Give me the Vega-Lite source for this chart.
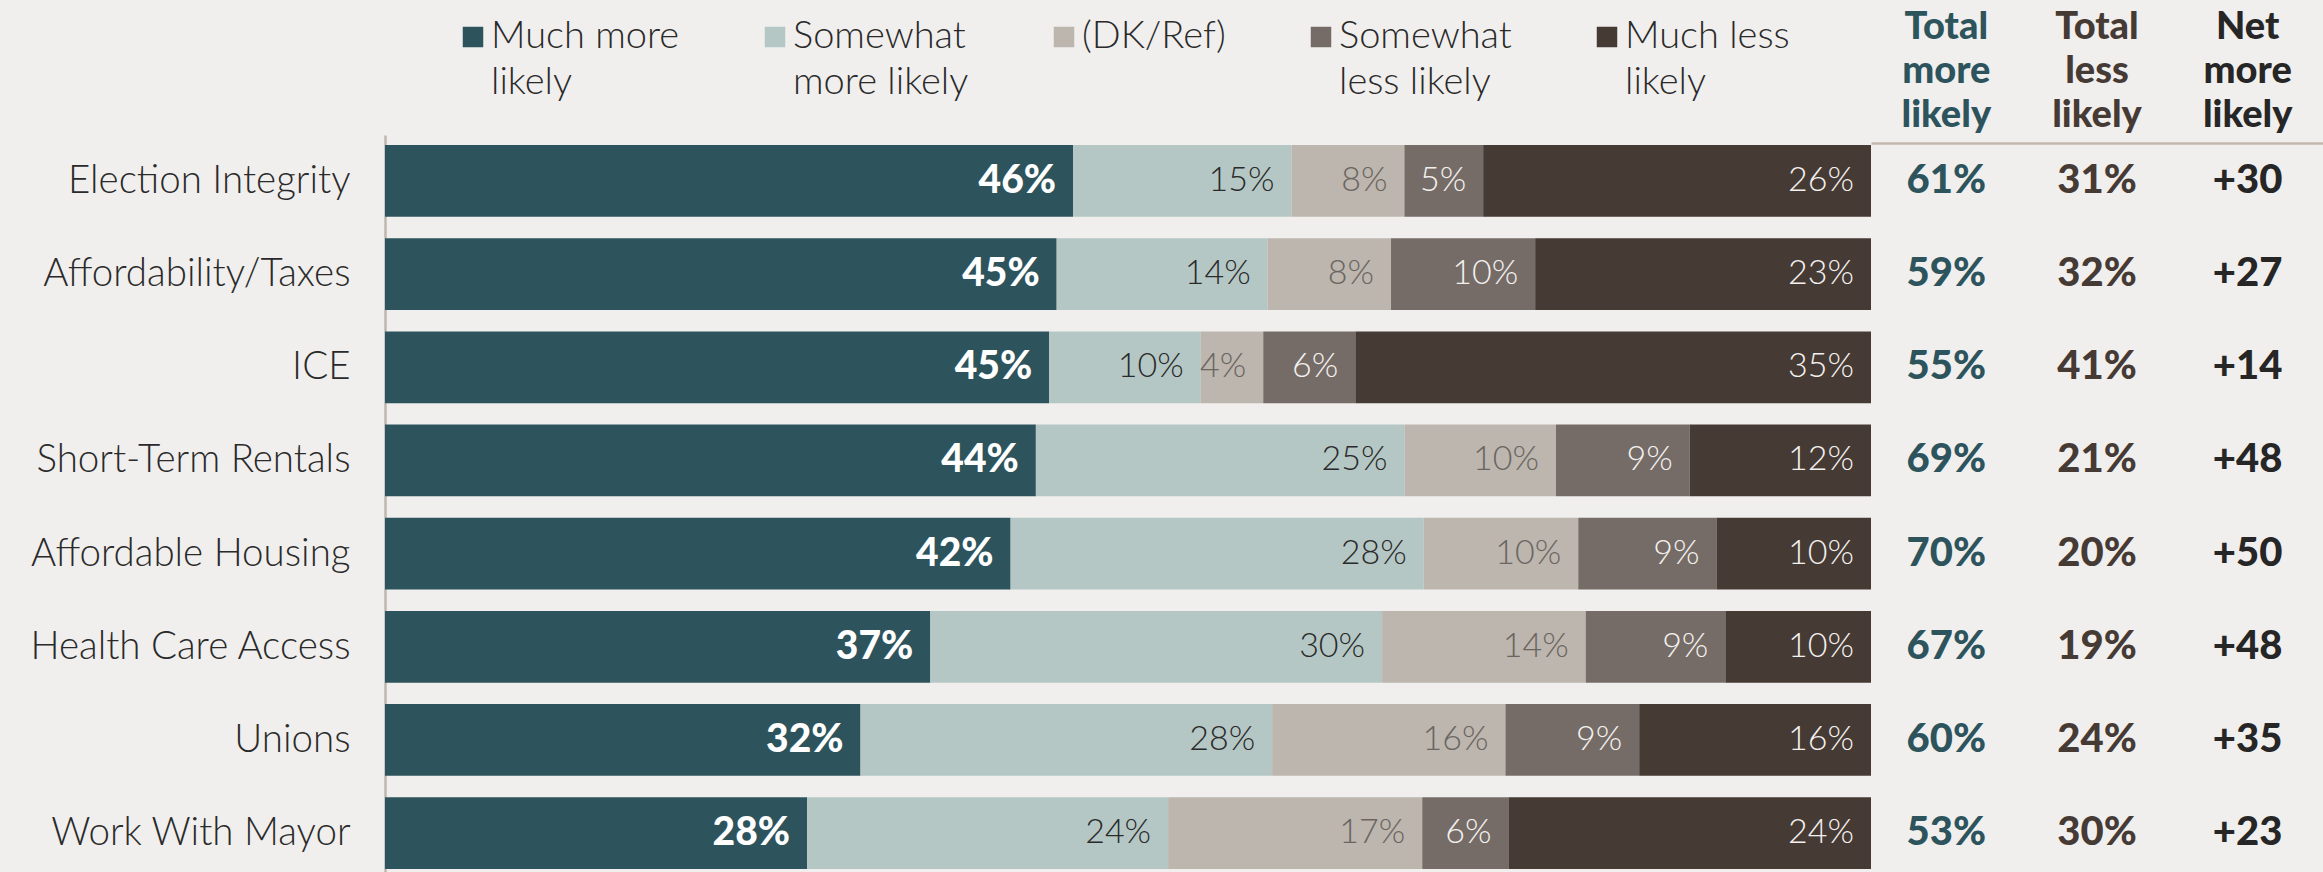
{
  "$schema": "https://vega.github.io/schema/vega-lite/v6.json",
  "background": "#f0efed",
  "autosize": {"type": "none"},
  "padding": {"left": 385, "top": 135, "right": 1938, "bottom": 737},
  "spacing": 0,
  "bounds": "flush",
  "config": {"view": {"stroke": null}, "font": "Lato", "style": {"guide-label": {"lineHeight": 46}}},
  "datasets": {
    "responses": [
      {"issue": "Election Integrity", "response": "Much more likely", "rank": 1, "share": 0.463},
      {"issue": "Election Integrity", "response": "Somewhat more likely", "rank": 2, "share": 0.147},
      {"issue": "Election Integrity", "response": "(DK/Ref)", "rank": 3, "share": 0.076},
      {"issue": "Election Integrity", "response": "Somewhat less likely", "rank": 4, "share": 0.053},
      {"issue": "Election Integrity", "response": "Much less likely", "rank": 5, "share": 0.261},
      {"issue": "Affordability/Taxes", "response": "Much more likely", "rank": 1, "share": 0.452},
      {"issue": "Affordability/Taxes", "response": "Somewhat more likely", "rank": 2, "share": 0.142},
      {"issue": "Affordability/Taxes", "response": "(DK/Ref)", "rank": 3, "share": 0.083},
      {"issue": "Affordability/Taxes", "response": "Somewhat less likely", "rank": 4, "share": 0.097},
      {"issue": "Affordability/Taxes", "response": "Much less likely", "rank": 5, "share": 0.226},
      {"issue": "ICE", "response": "Much more likely", "rank": 1, "share": 0.447},
      {"issue": "ICE", "response": "Somewhat more likely", "rank": 2, "share": 0.102},
      {"issue": "ICE", "response": "(DK/Ref)", "rank": 3, "share": 0.042},
      {"issue": "ICE", "response": "Somewhat less likely", "rank": 4, "share": 0.062},
      {"issue": "ICE", "response": "Much less likely", "rank": 5, "share": 0.347},
      {"issue": "Short-Term Rentals", "response": "Much more likely", "rank": 1, "share": 0.438},
      {"issue": "Short-Term Rentals", "response": "Somewhat more likely", "rank": 2, "share": 0.248},
      {"issue": "Short-Term Rentals", "response": "(DK/Ref)", "rank": 3, "share": 0.102},
      {"issue": "Short-Term Rentals", "response": "Somewhat less likely", "rank": 4, "share": 0.090},
      {"issue": "Short-Term Rentals", "response": "Much less likely", "rank": 5, "share": 0.122},
      {"issue": "Affordable Housing", "response": "Much more likely", "rank": 1, "share": 0.421},
      {"issue": "Affordable Housing", "response": "Somewhat more likely", "rank": 2, "share": 0.278},
      {"issue": "Affordable Housing", "response": "(DK/Ref)", "rank": 3, "share": 0.104},
      {"issue": "Affordable Housing", "response": "Somewhat less likely", "rank": 4, "share": 0.093},
      {"issue": "Affordable Housing", "response": "Much less likely", "rank": 5, "share": 0.104},
      {"issue": "Health Care Access", "response": "Much more likely", "rank": 1, "share": 0.367},
      {"issue": "Health Care Access", "response": "Somewhat more likely", "rank": 2, "share": 0.304},
      {"issue": "Health Care Access", "response": "(DK/Ref)", "rank": 3, "share": 0.137},
      {"issue": "Health Care Access", "response": "Somewhat less likely", "rank": 4, "share": 0.094},
      {"issue": "Health Care Access", "response": "Much less likely", "rank": 5, "share": 0.098},
      {"issue": "Unions", "response": "Much more likely", "rank": 1, "share": 0.320},
      {"issue": "Unions", "response": "Somewhat more likely", "rank": 2, "share": 0.277},
      {"issue": "Unions", "response": "(DK/Ref)", "rank": 3, "share": 0.157},
      {"issue": "Unions", "response": "Somewhat less likely", "rank": 4, "share": 0.090},
      {"issue": "Unions", "response": "Much less likely", "rank": 5, "share": 0.156},
      {"issue": "Work With Mayor", "response": "Much more likely", "rank": 1, "share": 0.284},
      {"issue": "Work With Mayor", "response": "Somewhat more likely", "rank": 2, "share": 0.243},
      {"issue": "Work With Mayor", "response": "(DK/Ref)", "rank": 3, "share": 0.171},
      {"issue": "Work With Mayor", "response": "Somewhat less likely", "rank": 4, "share": 0.058},
      {"issue": "Work With Mayor", "response": "Much less likely", "rank": 5, "share": 0.244}
    ],
    "totals": [
      {"issue": "Election Integrity", "metric": "Total more likely", "value": "61%"},
      {"issue": "Election Integrity", "metric": "Total less likely", "value": "31%"},
      {"issue": "Election Integrity", "metric": "Net more likely", "value": "+30"},
      {"issue": "Affordability/Taxes", "metric": "Total more likely", "value": "59%"},
      {"issue": "Affordability/Taxes", "metric": "Total less likely", "value": "32%"},
      {"issue": "Affordability/Taxes", "metric": "Net more likely", "value": "+27"},
      {"issue": "ICE", "metric": "Total more likely", "value": "55%"},
      {"issue": "ICE", "metric": "Total less likely", "value": "41%"},
      {"issue": "ICE", "metric": "Net more likely", "value": "+14"},
      {"issue": "Short-Term Rentals", "metric": "Total more likely", "value": "69%"},
      {"issue": "Short-Term Rentals", "metric": "Total less likely", "value": "21%"},
      {"issue": "Short-Term Rentals", "metric": "Net more likely", "value": "+48"},
      {"issue": "Affordable Housing", "metric": "Total more likely", "value": "70%"},
      {"issue": "Affordable Housing", "metric": "Total less likely", "value": "20%"},
      {"issue": "Affordable Housing", "metric": "Net more likely", "value": "+50"},
      {"issue": "Health Care Access", "metric": "Total more likely", "value": "67%"},
      {"issue": "Health Care Access", "metric": "Total less likely", "value": "19%"},
      {"issue": "Health Care Access", "metric": "Net more likely", "value": "+48"},
      {"issue": "Unions", "metric": "Total more likely", "value": "60%"},
      {"issue": "Unions", "metric": "Total less likely", "value": "24%"},
      {"issue": "Unions", "metric": "Net more likely", "value": "+35"},
      {"issue": "Work With Mayor", "metric": "Total more likely", "value": "53%"},
      {"issue": "Work With Mayor", "metric": "Total less likely", "value": "30%"},
      {"issue": "Work With Mayor", "metric": "Net more likely", "value": "+23"}
    ]
  },
  "hconcat": [
    {
      "width": 1486,
      "height": 737,
      "data": {"name": "responses"},
      "transform": [
        {"stack": "share", "groupby": ["issue"], "sort": [{"field": "rank", "order": "ascending"}], "as": ["x0", "x1"]}
      ],
      "encoding": {
        "y": {
          "field": "issue",
          "type": "nominal",
          "sort": ["Election Integrity", "Affordability/Taxes", "ICE", "Short-Term Rentals", "Affordable Housing", "Health Care Access", "Unions", "Work With Mayor"],
          "scale": {"type": "band", "paddingInner": 0.23, "paddingOuter": 0.07, "align": 0.77},
          "axis": {
            "title": null,
            "ticks": false,
            "tickSize": 0,
            "domainColor": "#bdb7b0",
            "domainWidth": 2.5,
            "labelPadding": 35,
            "labelFontSize": 38.5,
            "labelFont": "Lato",
            "labelFontWeight": 300,
            "labelColor": "#2a2a2a",
            "labelLimit": 400
          }
        }
      },
      "layer": [
        {
          "mark": {"type": "bar"},
          "encoding": {
            "x": {"field": "x0", "type": "quantitative", "scale": {"domain": [0, 1], "nice": false}, "axis": null},
            "x2": {"field": "x1"},
            "color": {
              "field": "response",
              "type": "nominal",
              "scale": {
                "domain": ["Much more likely", "Somewhat more likely", "(DK/Ref)", "Somewhat less likely", "Much less likely"],
                "range": ["#2d545d", "#b5c7c4", "#bcb6ae", "#766c67", "#463a35"]
              },
              "legend": {
                "orient": "none",
                "legendX": 69,
                "legendY": -117,
                "direction": "horizontal",
                "columns": 5,
                "title": null,
                "symbolType": "square",
                "symbolSize": 420,
                "symbolStrokeWidth": 0,
                "labelFontSize": 38,
                "labelFont": "Lato",
                "labelFontWeight": 300,
                "labelColor": "#2a2a2a",
                "labelBaseline": "middle",
                "labelOffset": -1,
                "labelLimit": 400,
                "columnPadding": 76,
                "labelExpr": "datum.label == 'Much more likely' ? ['Much more', 'likely'] : datum.label == 'Somewhat more likely' ? ['Somewhat', 'more likely'] : datum.label == 'Somewhat less likely' ? ['Somewhat', 'less likely'] : datum.label == 'Much less likely' ? ['Much less', 'likely'] : [datum.label, ' ']"
              }
            }
          }
        },
        {
          "transform": [{"filter": "datum.response == 'Much more likely'"}],
          "mark": {"type": "text", "align": "right", "baseline": "middle", "dx": -17, "fontSize": 39, "fontWeight": 900, "font": "Lato", "color": "#ffffff"},
          "encoding": {
            "x": {"field": "x1", "type": "quantitative"},
            "text": {"field": "share", "type": "quantitative", "format": ".0%"}
          }
        },
        {
          "transform": [{"filter": "datum.response != 'Much more likely'"}],
          "mark": {"type": "text", "align": "right", "baseline": "middle", "dx": -17, "fontSize": 34, "fontWeight": 300, "font": "Lato"},
          "encoding": {
            "x": {"field": "x1", "type": "quantitative"},
            "text": {"field": "share", "type": "quantitative", "format": ".0%"},
            "color": {
              "condition": [
                {"test": "datum.response == 'Somewhat more likely'", "value": "#2a2a2a"},
                {"test": "datum.response == '(DK/Ref)'", "value": "#6b6561"}
              ],
              "value": "#f3f1ef"
            }
          }
        }
      ]
    },
    {
      "width": 452,
      "height": 737,
      "data": {"name": "totals"},
      "mark": {"type": "text", "fontSize": 40, "fontWeight": 900, "font": "Lato", "baseline": "middle"},
      "encoding": {
        "x": {
          "field": "metric",
          "type": "nominal",
          "sort": ["Total more likely", "Total less likely", "Net more likely"],
          "scale": {"type": "band", "paddingInner": 0, "paddingOuter": 0},
          "axis": {
            "orient": "top",
            "title": null,
            "ticks": false,
            "tickSize": 0,
            "offset": -8,
            "domainColor": "#c4b6ae",
            "domainWidth": 2.5,
            "labelAngle": 0,
            "labelPadding": 97,
            "labelFontSize": 38,
            "labelFont": "Lato",
            "labelFontWeight": 900,
            "labelLineHeight": 44,
            "labelExpr": "split(datum.label, ' ')",
            "labelColor": {"expr": "datum.value == 'Total more likely' ? '#2d545d' : datum.value == 'Total less likely' ? '#463a35' : '#262626'"}
          }
        },
        "y": {
          "field": "issue",
          "type": "nominal",
          "sort": ["Election Integrity", "Affordability/Taxes", "ICE", "Short-Term Rentals", "Affordable Housing", "Health Care Access", "Unions", "Work With Mayor"],
          "scale": {"type": "band", "paddingInner": 0.23, "paddingOuter": 0.07, "align": 0.77},
          "axis": null
        },
        "text": {"field": "value"},
        "color": {
          "condition": [
            {"test": "datum.metric == 'Total more likely'", "value": "#2d545d"},
            {"test": "datum.metric == 'Total less likely'", "value": "#463a35"}
          ],
          "value": "#262626"
        }
      }
    }
  ]
}
